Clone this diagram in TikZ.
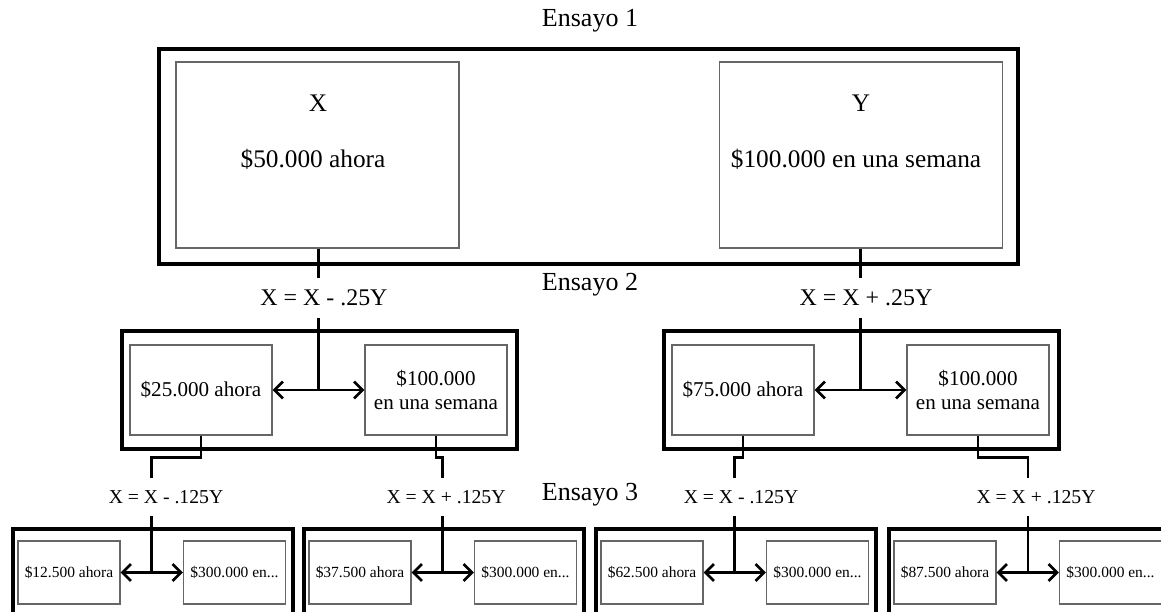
\documentclass[tikz,border=0pt]{standalone}
\usepackage{fontspec}
\setmainfont{Liberation Serif}
\usetikzlibrary{arrows.meta,calc}

\tikzset{
  outerbox/.style={draw, line width=2.6pt, inner sep=0pt},
  innerbox/.style={draw=black!60, line width=1pt, inner sep=0pt, align=center},
  link/.style={line width=1.8pt},
  twoway/.style={line width=1.8pt, {Straight Barb[length=6pt,width=12pt]}-{Straight Barb[length=6pt,width=12pt]}},
  trial/.style={font=\fontsize{18.5}{21}\selectfont, inner sep=0pt},
  rulebig/.style={font=\fontsize{17}{20}\selectfont, inner sep=0pt, minimum height=1cm},
  rulesmall/.style={font=\fontsize{14}{16}\selectfont, inner sep=0pt, minimum height=0.925cm}
}

\begin{document}
\begin{tikzpicture}[x=0.025cm, y=-0.025cm]
  \useasboundingbox (0,0) rectangle (1161,611);
  \clip (0,0) rectangle (1161,611);

  % Ensayo 1
  \node (trial1) at (590,21) [trial] {Ensayo 1};
  \node (box1) at (588.5,156.5) [outerbox, minimum width=21.475cm, minimum height=5.375cm] {};
  \node (xbox) at (317.5,155) [innerbox, minimum width=7.075cm, minimum height=4.65cm] {};
  \node (ybox) at (861,155) [innerbox, minimum width=7.075cm, minimum height=4.65cm] {};
  \node (xname) at (318,103) [font=\fontsize{18}{21}\selectfont] {X};
  \node (xamount) at (313,159) [font=\fontsize{18}{21}\selectfont] {\$50.000 ahora};
  \node (yname) at (861,103) [font=\fontsize{18}{21}\selectfont] {Y};
  \node (yamount) at (856,159) [font=\fontsize{18}{21}\selectfont] {\$100.000 en una semana};

  % Ensayo 2
  \node (trial2) at (590,285) [trial] {Ensayo 2};
  \node (rule1a) at (324,298) [rulebig] {X = X - .25Y};
  \node (rule1b) at (866,298) [rulebig] {X = X + .25Y};

  \node (box2a) at (319.5,390) [outerbox, minimum width=9.875cm, minimum height=2.95cm] {};
  \node (box2b) at (861.5,390) [outerbox, minimum width=9.875cm, minimum height=2.95cm] {};
  \node (l2a) at (201,390) [innerbox, minimum width=3.55cm, minimum height=2.25cm, font=\fontsize{15}{17}\selectfont] {\$25.000 ahora};
  \node (l2b) at (436,390) [innerbox, minimum width=3.55cm, minimum height=2.25cm, font=\fontsize{15}{17}\selectfont] {\$100.000\\en una semana};
  \node (l2c) at (743,390) [innerbox, minimum width=3.55cm, minimum height=2.25cm, font=\fontsize{15}{17}\selectfont] {\$75.000 ahora};
  \node (l2d) at (978,390) [innerbox, minimum width=3.55cm, minimum height=2.25cm, font=\fontsize{15}{17}\selectfont] {\$100.000\\en una semana};

  \coordinate (j2a) at ($(l2a.east)!.5!(l2b.west)$);
  \coordinate (j2b) at ($(l2c.east)!.5!(l2d.west)$);

  \draw[link] (j2a |- xbox.south) -- (j2a |- rule1a.north);
  \draw[link] (j2a |- rule1a.south) -- (j2a);
  \draw[twoway] (l2a) -- (l2b);
  \draw[link] (j2b |- ybox.south) -- (j2b |- rule1b.north);
  \draw[link] (j2b |- rule1b.south) -- (j2b);
  \draw[twoway] (l2c) -- (l2d);

  % Ensayo 3
  \node (trial3) at (590,495) [trial] {Ensayo 3};
  \node (rule2a) at (166,497) [rulesmall] {X = X - .125Y};
  \node (rule2b) at (446,497) [rulesmall] {X = X + .125Y};
  \node (rule2c) at (741,497) [rulesmall] {X = X - .125Y};
  \node (rule2d) at (1036,497) [rulesmall] {X = X + .125Y};

  \node (box3a) at (153,575) [outerbox, minimum width=7cm, minimum height=2.3cm] {};
  \node (box3b) at (444,575) [outerbox, minimum width=7cm, minimum height=2.3cm] {};
  \node (box3c) at (736,575) [outerbox, minimum width=7cm, minimum height=2.3cm] {};
  \node (box3d) at (1029,575) [outerbox, minimum width=7cm, minimum height=2.3cm] {};

  \node (l3a) at (69,572.5) [innerbox, minimum width=2.55cm, minimum height=1.575cm, font=\fontsize{11}{13}\selectfont] {\$12.500 ahora};
  \node (l3b) at (234.5,572.5) [innerbox, minimum width=2.55cm, minimum height=1.575cm, font=\fontsize{11}{13}\selectfont] {\$300.000 en...};
  \node (l3c) at (360,572.5) [innerbox, minimum width=2.55cm, minimum height=1.575cm, font=\fontsize{11}{13}\selectfont] {\$37.500 ahora};
  \node (l3d) at (525.5,572.5) [innerbox, minimum width=2.55cm, minimum height=1.575cm, font=\fontsize{11}{13}\selectfont] {\$300.000 en...};
  \node (l3e) at (652,572.5) [innerbox, minimum width=2.55cm, minimum height=1.575cm, font=\fontsize{11}{13}\selectfont] {\$62.500 ahora};
  \node (l3f) at (817.5,572.5) [innerbox, minimum width=2.55cm, minimum height=1.575cm, font=\fontsize{11}{13}\selectfont] {\$300.000 en...};
  \node (l3g) at (945,572.5) [innerbox, minimum width=2.55cm, minimum height=1.575cm, font=\fontsize{11}{13}\selectfont] {\$87.500 ahora};
  \node (l3h) at (1110.5,572.5) [innerbox, minimum width=2.55cm, minimum height=1.575cm, font=\fontsize{11}{13}\selectfont] {\$300.000 en...};

  \coordinate (j3a) at ($(l3a.east)!.5!(l3b.west)$);
  \coordinate (j3b) at ($(l3c.east)!.5!(l3d.west)$);
  \coordinate (j3c) at ($(l3e.east)!.5!(l3f.west)$);
  \coordinate (j3d) at ($(l3g.east)!.5!(l3h.west)$);

  % links from Ensayo 2 down to Ensayo 3
  \draw[link] (l2a.south) -- ++(0,22) -| (j3a |- rule2a.north);
  \draw[link] (l2b.south) -- ++(0,22) -| (j3b |- rule2b.north);
  \draw[link] (l2c.south) -- ++(0,22) -| (j3c |- rule2c.north);
  \draw[link] (l2d.south) -- ++(0,22) -| (j3d |- rule2d.north);

  \draw[link] (j3a |- rule2a.south) -- (j3a);
  \draw[link] (j3b |- rule2b.south) -- (j3b);
  \draw[link] (j3c |- rule2c.south) -- (j3c);
  \draw[link] (j3d |- rule2d.south) -- (j3d);

  \draw[twoway] (l3a) -- (l3b);
  \draw[twoway] (l3c) -- (l3d);
  \draw[twoway] (l3e) -- (l3f);
  \draw[twoway] (l3g) -- (l3h);
\end{tikzpicture}
\end{document}
